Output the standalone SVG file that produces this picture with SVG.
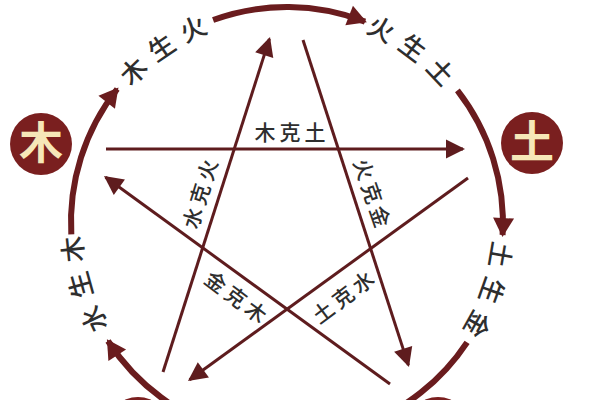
<svg xmlns="http://www.w3.org/2000/svg" width="600" height="400" viewBox="0 0 600 400">
<style>
.arc{fill:none;stroke:#6a1c1e;stroke-width:6}
.ln{fill:none;stroke:#5e1c1e;stroke-width:3}
.lbl{font-family:"Noto Sans CJK SC","Noto Sans",sans-serif;fill:#2e2e2e;font-weight:500}
.al{font-size:26px;letter-spacing:9px}
.kl{font-size:21px;letter-spacing:4px}
.node{fill:#7a1f1f}
.nt{font-family:"Noto Sans CJK SC","Noto Sans",sans-serif;font-size:44px;font-weight:700;fill:#f6e7b8}
</style>
<defs>
<marker id="ahl" markerUnits="userSpaceOnUse" markerWidth="30" markerHeight="30" viewBox="-20 -15 30 30" refX="0" refY="0" orient="auto"><path d="M2,0 L-17,-9.5 L-17,9.5 Z" fill="#5e1c1e"/></marker>
<marker id="aha" markerUnits="userSpaceOnUse" markerWidth="30" markerHeight="30" viewBox="-20 -15 30 30" refX="0" refY="0" orient="auto"><path d="M2,0 L-17,-10.5 L-17,10.5 Z" fill="#6a1c1e"/></marker>
<path id="tc" d="M81,223 A206,206 0 1,1 493,223 A206,206 0 1,1 81,223"/>
</defs>
<rect width="600" height="400" fill="#ffffff"/>
<g id="connectors">
<path class="arc" d="M71.3,234.3 A216,216 0 0,1 117.2,89" marker-end="url(#aha)"/>
<path class="arc" d="M213.1,20 A216,216 0 0,1 365,21.6" marker-end="url(#aha)"/>
<path class="arc" d="M457.4,90.3 A216,216 0 0,1 502.6,235" marker-end="url(#aha)"/>
<path class="arc" d="M467.1,342.3 A216,216 0 0,1 360.9,426"/>
<path class="arc" d="M231,431.6 A216,216 0 0,1 108,341" marker-end="url(#aha)"/>
<line class="ln" x1="106" y1="149" x2="463" y2="149" marker-end="url(#ahl)"/>
<line class="ln" x1="163" y1="372" x2="269.4" y2="38.9" marker-end="url(#ahl)"/>
<line class="ln" x1="303" y1="40" x2="408.4" y2="365.1" marker-end="url(#ahl)"/>
<line class="ln" x1="468" y1="178" x2="189.6" y2="379.8" marker-end="url(#ahl)"/>
<line class="ln" x1="390" y1="384" x2="105.6" y2="177.2" marker-end="url(#ahl)"/>
</g>
<g id="arc-labels" class="lbl al">
<text><textPath href="#tc" startOffset="200" text-anchor="middle">木生火</textPath></text>
<text><textPath href="#tc" startOffset="456" text-anchor="middle">火生土</textPath></text>
<text><textPath href="#tc" startOffset="717" text-anchor="middle">土生金</textPath></text>
<text><textPath href="#tc" startOffset="1238" text-anchor="middle">水生木</textPath></text>
</g>
<g id="line-labels" class="lbl kl">
<text x="292" y="140" text-anchor="middle">木克土</text>
<text transform="translate(200,194) rotate(-73)" x="2" y="8" text-anchor="middle">水克火</text>
<text transform="translate(372,193) rotate(71)" x="2" y="8" text-anchor="middle">火克金</text>
<text transform="translate(236,297) rotate(37)" x="2" y="8" text-anchor="middle">金克木</text>
<text transform="translate(343,297) rotate(-37)" x="2" y="8" text-anchor="middle">土克水</text>
</g>
<g id="node-wood"><circle class="node" cx="41" cy="144" r="31"/><text class="nt" x="41" y="159" text-anchor="middle">木</text></g>
<g id="node-earth"><circle class="node" cx="532" cy="143" r="31"/><text class="nt" x="532" y="158" text-anchor="middle">土</text></g>
<g id="node-water"><circle class="node" cx="138" cy="428" r="31"/></g>
<g id="node-metal"><circle class="node" cx="438" cy="428" r="31"/></g>
</svg>
